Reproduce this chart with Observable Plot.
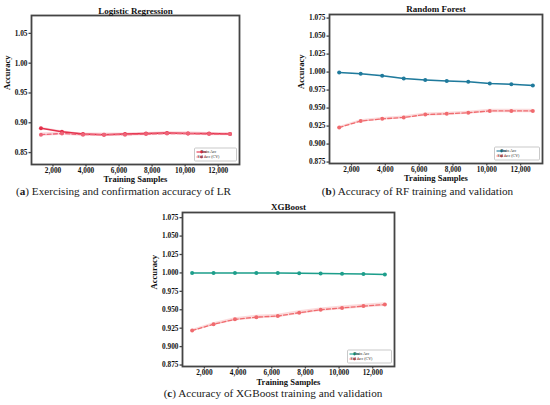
<!DOCTYPE html>
<html><head><meta charset="utf-8">
<script src="https://cdn.jsdelivr.net/npm/d3@7"></script>
<script src="https://cdn.jsdelivr.net/npm/@observablehq/plot@0.6"></script>
<style>
body{margin:0;background:#fff;}
#fig{position:relative;width:550px;height:405px;overflow:hidden;background:#fff;}
#fig > svg{position:absolute;}
.cap{position:absolute;font-family:"Liberation Serif",serif;font-size:11.2px;color:#1a1a1a;white-space:nowrap;transform:translate(-50%,-50%);}
</style></head><body><div id="fig"></div>
<script>
// ---- data ----
const trainSizes = [1272, 2544, 3816, 5088, 6360, 7632, 8904, 10176, 11448, 12720];
const xTicks = [2000, 4000, 6000, 8000, 10000, 12000];
const lrYTicks = [0.85, 0.90, 0.95, 1.00, 1.05];
const treeYTicks = [0.875, 0.900, 0.925, 0.950, 0.975, 1.000, 1.025, 1.050, 1.075];

const lrTrain    = [0.891, 0.885, 0.881, 0.880, 0.881, 0.882, 0.883, 0.882, 0.882, 0.881];
const lrTrainStd = [0.0015, 0.0015, 0.0012, 0.0012, 0.0010, 0.0010, 0.0010, 0.0010, 0.0010, 0.0010];
const lrVal      = [0.880, 0.882, 0.880, 0.880, 0.880, 0.881, 0.882, 0.882, 0.881, 0.881];
const lrValStd   = [0.0030, 0.0030, 0.0030, 0.0030, 0.0028, 0.0028, 0.0028, 0.0028, 0.0028, 0.0028];

const rfTrain    = [0.9995, 0.9977, 0.9950, 0.9910, 0.9890, 0.9875, 0.9865, 0.9840, 0.9830, 0.9815];
const rfTrainStd = [0.0004, 0.0004, 0.0005, 0.0005, 0.0005, 0.0005, 0.0005, 0.0005, 0.0005, 0.0005];
const rfVal      = [0.923, 0.932, 0.935, 0.937, 0.941, 0.942, 0.9435, 0.946, 0.946, 0.946];
const rfValStd   = [0.0015, 0.0018, 0.0018, 0.0020, 0.0022, 0.0022, 0.0022, 0.0025, 0.0025, 0.0025];

const xgbTrain    = [1.000, 1.000, 1.000, 1.000, 1.000, 0.9995, 0.9992, 0.999, 0.9985, 0.998];
const xgbTrainStd = [0.0002, 0.0002, 0.0002, 0.0002, 0.0002, 0.0003, 0.0003, 0.0003, 0.0003, 0.0003];
const xgbVal      = [0.9218, 0.9304, 0.937, 0.940, 0.9415, 0.946, 0.950, 0.9525, 0.955, 0.957];
const xgbValStd   = [0.0015, 0.0020, 0.0022, 0.0025, 0.0025, 0.0025, 0.0025, 0.0025, 0.0025, 0.0025];

const legendLabels = ["Train Acc", "Val Acc (CV)"];
const xDomain = [700, 13292];

// ---- drawing ----
const fig = document.getElementById("fig");
const serif = "'Liberation Serif', 'Times New Roman', serif";
const frameColor = "#444";

function panel(cfg) {
  const rows = trainSizes.map((n, i) => ({
    n,
    train: cfg.train[i], tLo: cfg.train[i] - cfg.trainStd[i], tHi: cfg.train[i] + cfg.trainStd[i],
    val: cfg.val[i], vLo: cfg.val[i] - cfg.valStd[i], vHi: cfg.val[i] + cfg.valStd[i]
  }));
  const svg = Plot.plot({
    width: cfg.width, height: cfg.height,
    marginLeft: cfg.ml, marginRight: cfg.mr, marginTop: cfg.mt, marginBottom: cfg.mb,
    style: {fontFamily: serif, fontWeight: "bold", fontSize: "7.3px", background: "transparent", color: "#111", overflow: "visible"},
    x: {domain: xDomain},
    y: {domain: cfg.yDomain},
    marks: [
      Plot.areaY(rows, {x: "n", y1: "tLo", y2: "tHi", fill: cfg.tc, fillOpacity: 0.18}),
      Plot.areaY(rows, {x: "n", y1: "vLo", y2: "vHi", fill: cfg.vc, fillOpacity: 0.24}),
      Plot.lineY(rows, {x: "n", y: "train", stroke: cfg.tc, strokeWidth: 1.5}),
      Plot.dot(rows, {x: "n", y: "train", fill: cfg.tc, r: 2}),
      Plot.lineY(rows, {x: "n", y: "val", stroke: cfg.vc, strokeWidth: 1.3, strokeDasharray: "4,2.2"}),
      Plot.dot(rows, {x: "n", y: "val", fill: cfg.vc, r: 2}),
      Plot.frame({stroke: frameColor, strokeWidth: 1.8}),
      Plot.axisX({ticks: xTicks, tickFormat: d3.format(","), tickSize: 2.5, tickPadding: 1, label: null, stroke: frameColor, strokeWidth: 1.3}),
      Plot.axisY({ticks: cfg.yTicks, tickFormat: d3.format(cfg.fmt), tickSize: 2.5, tickPadding: 1.5, label: null, stroke: frameColor, strokeWidth: 1.3}),
      Plot.text([cfg.title], {text: d => d, frameAnchor: "top", lineAnchor: "middle", dy: cfg.tDy, fontSize: 9, fill: "#111"}),
      Plot.text(["Training Samples"], {text: d => d, frameAnchor: "bottom", lineAnchor: "middle", dy: cfg.xlDy, fontSize: 8.5, fill: "#111"}),
      Plot.text(["Accuracy"], {text: d => d, frameAnchor: "left", lineAnchor: "middle", dx: cfg.ylDx, rotate: -90, fontSize: 8.5, fill: "#111"})
    ]
  });
  svg.style.left = cfg.left + "px";
  svg.style.top = cfg.top + "px";
  const W = cfg.width, H = cfg.height;
  const sel = d3.select(svg);
  // legend (lower right inside frame)
  const lw = cfg.lw, lh = 13;
  const lx = W - cfg.mr - lw - 2.5, ly = H - cfg.mb - lh - 3;
  const g = sel.append("g");
  g.append("rect").attr("x", lx).attr("y", ly).attr("width", lw).attr("height", lh)
    .attr("rx", 1).attr("fill", "#fff").attr("stroke", "#bbb").attr("stroke-width", 0.8);
  [[cfg.tc, null], [cfg.vc, "2.5,1.2"]].forEach(([c, dash], i) => {
    const cy = ly + 4 + i * 5;
    const ln = g.append("line").attr("x1", lx + 2).attr("x2", lx + 12).attr("y1", cy).attr("y2", cy)
      .attr("stroke", c).attr("stroke-width", 1.1);
    if (dash) ln.attr("stroke-dasharray", dash);
    g.append("circle").attr("cx", lx + 7).attr("cy", cy).attr("r", 1.4).attr("fill", c);
    g.append("text").attr("x", lx + 14).attr("y", cy).attr("dy", "0.32em")
      .attr("font-size", 4).attr("font-weight", "normal").attr("fill", "#222").text(legendLabels[i]);
  });
  fig.appendChild(svg);
}

panel({left: 0, top: 0, width: 250, height: 185, ml: 31, mr: 11, mt: 15, mb: 21,
  yDomain: [0.83, 1.08], yTicks: lrYTicks, fmt: ".2f", title: "Logistic Regression",
  train: lrTrain, trainStd: lrTrainStd, val: lrVal, valStd: lrValStd,
  tc: "#e4304b", vc: "#ee6478", tDy: -4.5, xlDy: 14.5, ylDx: -24, lw: 42});

panel({left: 275, top: 0, width: 275, height: 185, ml: 54, mr: 8, mt: 14, mb: 22,
  yDomain: [0.873, 1.08], yTicks: treeYTicks, fmt: ".3f", title: "Random Forest",
  train: rfTrain, trainStd: rfTrainStd, val: rfVal, valStd: rfValStd,
  tc: "#1f7a9c", vc: "#f06a6e", tDy: -5, xlDy: 14.5, ylDx: -28, lw: 45});

panel({left: 120, top: 195, width: 290, height: 385 - 195, ml: 62, mr: 16, mt: 17, mb: 19,
  yDomain: [0.873, 1.082], yTicks: treeYTicks, fmt: ".3f", title: "XGBoost",
  train: xgbTrain, trainStd: xgbTrainStd, val: xgbVal, valStd: xgbValStd,
  tc: "#1d9e8b", vc: "#f06a6e", tDy: -5.5, xlDy: 15.5, ylDx: -28, lw: 44});

const caps = [
  {x: 123.5, y: 191, html: "(<b>a</b>) Exercising and confirmation accuracy of LR"},
  {x: 417.5, y: 191, html: "(<b>b</b>) Accuracy of RF training and validation"},
  {x: 273, y: 393, html: "(<b>c</b>) Accuracy of XGBoost training and validation"}
];
caps.forEach(c => {
  const d = document.createElement("div");
  d.className = "cap";
  d.style.left = c.x + "px";
  d.style.top = c.y + "px";
  d.innerHTML = c.html;
  fig.appendChild(d);
});
</script></body></html>
